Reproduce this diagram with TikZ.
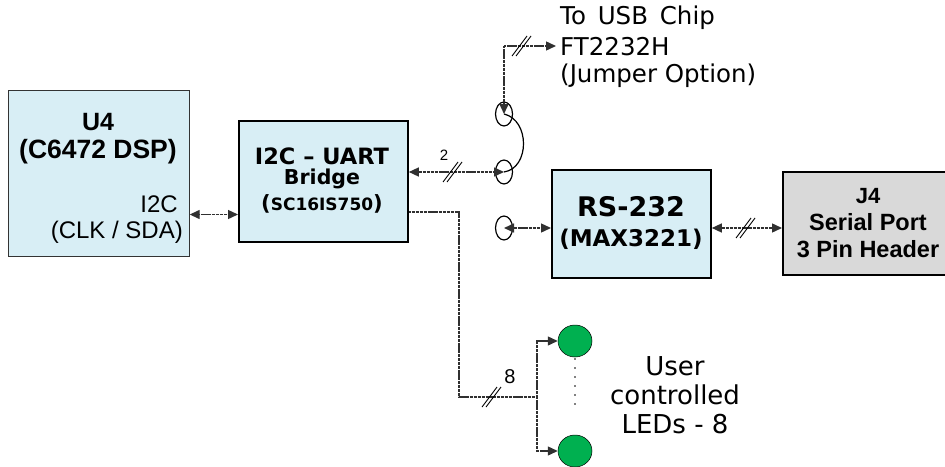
\documentclass[tikz,border=0pt]{standalone}
\usepackage{fontspec}
\setmainfont{Liberation Sans}
\newfontfamily\verd{DejaVu Sans}
\usetikzlibrary{arrows.meta,calc,shapes.geometric}
\definecolor{boxblue}{HTML}{D8EEF5}
\definecolor{boxgrey}{HTML}{D9D9D9}
\definecolor{ledgreen}{HTML}{00B050}
\definecolor{wire}{HTML}{303030}
\tikzset{
  block/.style={draw=black,line width=1.8pt,fill=boxblue,align=center,inner sep=0pt,anchor=north west},
  wireline/.style={draw=wire,line width=1.4pt,dash pattern=on 1.1pt off 0.25pt},
  oneway/.style={wireline,-{Triangle[length=10pt,width=9pt,fill=wire]}},
  twoway/.style={wireline,{Triangle[length=10pt,width=9pt,fill=wire]}-{Triangle[length=10pt,width=9pt,fill=wire]}},
  slashmark/.style={draw=black,line width=0.9pt},
  jumper/.style={draw=black,line width=1.2pt,ellipse,minimum width=17pt,minimum height=24pt,inner sep=0pt},
  led/.style={draw=black,line width=0.5pt,ellipse,fill=ledgreen,minimum width=34pt,minimum height=32pt,inner sep=0pt},
  lab/.style={inner sep=0pt,align=center},
}
\newcommand{\dblslash}[1]{%
  \draw[slashmark] ($(#1)+(-9,10)$) -- ($(#1)+(6,-10)$);
  \draw[slashmark] ($(#1)+(-5,10)$) -- ($(#1)+(10,-10)$);
}
\begin{document}
\begin{tikzpicture}[x=1pt,y=-1pt]
\useasboundingbox (0,0) rectangle (945,466);
% blocks
\node[block,line width=0.7pt,draw=black!80,minimum width=181pt,minimum height=166pt] (u4) at (8,90) {};
\node[block,minimum width=169pt,minimum height=121pt] (bridge) at (238,120) {};
\node[block,minimum width=159pt,minimum height=108pt] (rs) at (551,169) {};
\node[block,fill=boxgrey,minimum width=163pt,minimum height=103pt] (j4) at (782,171) {};
% block texts
\node[lab,font=\fontsize{25}{28}\selectfont\bfseries] (u4a) at (98,122) {U4};
\node[lab,font=\fontsize{26.5}{28}\selectfont\bfseries] (u4b) at (98,152) {(C6472 DSP)};
\node[lab,font=\fontsize{24}{26}\selectfont,anchor=east] (u4c) at (178,204) {I2C};
\node[lab,font=\fontsize{24}{26}\selectfont,anchor=east] (u4d) at (183,232) {(CLK / SDA)};
\node[lab,font=\verd\fontsize{22.5}{24}\selectfont\bfseries] (bra) at (322,156) {I2C – UART};
\node[lab,font=\verd\fontsize{20.5}{24}\selectfont\bfseries] (brb) at (322,179) {Bridge};
\node[lab,font=\verd\bfseries] (brc) at (322,204) {\fontsize{21}{24}\selectfont(\fontsize{17}{24}\selectfont SC16IS750\fontsize{21}{24}\selectfont)};
\node[lab,font=\verd\fontsize{27}{30}\selectfont\bfseries] (rsa) at (631,207) {RS-232};
\node[lab,font=\verd\fontsize{23}{30}\selectfont\bfseries] (rsb) at (631,239) {(MAX3221)};
\node[lab,font=\fontsize{22}{25}\selectfont\bfseries] (j4a) at (868,196) {J4};
\node[lab,font=\fontsize{23.5}{25}\selectfont\bfseries] (j4b) at (868,222) {Serial Port};
\node[lab,font=\fontsize{23.5}{25}\selectfont\bfseries] (j4c) at (868,249) {3 Pin Header};
% jumper ellipses
\node[jumper] (ja) at (504,114) {};
\node[jumper] (jb) at (504,172) {};
\node[jumper] (jc) at (504,228) {};
% LEDs
\node[led] (la) at (575,341) {};
\node[led] (lb) at (575,451) {};
% free coordinates
\coordinate (usb) at (556,46);
\coordinate (usbc) at (504,46);
\coordinate (bralo) at (459,212);
\coordinate (busl) at (459,397);
\coordinate (busr) at (537,397);
\coordinate (busa) at (537,341);
\coordinate (busb) at (537,451);
\coordinate (s1) at (521,46);
\coordinate (s2) at (452,172);
\coordinate (s3) at (745,228);
\coordinate (s4) at (491,397);
% connectors
\draw[twoway] (u4.east |- 0,214.5) -- (bridge.west |- 0,214.5);
\draw[twoway] (bridge.east |- jb) -- (jb.center);
\draw[oneway] (usbc) -- (usb);
\draw[oneway] (usbc) -- (ja.center);
\draw[twoway] (jc.center) -- (rs.west |- jc);
\draw[twoway] (rs.east |- s3) -- (j4.west |- s3);
\draw[wireline] (bridge.east |- bralo) -- (bralo) -- (busl) -- (busr);
\draw[oneway] (busr) -- (busa) -- (la.west);
\draw[oneway] (busr) -- (busb) -- (lb.west);
% jumper link
\draw[black,line width=1.2pt] (ja.center) .. controls (530,120) and (530,168) .. (jb.center);
% bus marks
\dblslash{s1}
\dblslash{s2}
\dblslash{s3}
\dblslash{s4}
% dots between the LEDs
\foreach \yy in {359,368,377,386,395,404}{\fill[black] (575,\yy) circle (0.8pt);}
% labels
\node[lab,font=\fontsize{15}{16}\selectfont] (two) at (444,155) {2};
\node[lab,font=\fontsize{20}{20}\selectfont] (eight) at (510,377) {8};
\node[lab,font=\verd\fontsize{24.5}{26}\selectfont,anchor=west] (ta) at (560,18) {To\hspace{4pt} USB\hspace{4pt} Chip};
\node[lab,font=\verd\fontsize{24.5}{26}\selectfont,anchor=west] (tb) at (560,47) {FT2232H};
\node[lab,font=\verd\fontsize{24.5}{26}\selectfont,anchor=west] (tc) at (560,76) {(Jumper Option)};
\node[lab,font=\verd\fontsize{26}{26}\selectfont] (ua) at (675,366) {User};
\node[lab,font=\verd\fontsize{26}{26}\selectfont] (ub) at (675,395) {controlled};
\node[lab,font=\verd\fontsize{26}{26}\selectfont] (uc) at (675,424) {LEDs - 8};
\end{tikzpicture}
\end{document}
